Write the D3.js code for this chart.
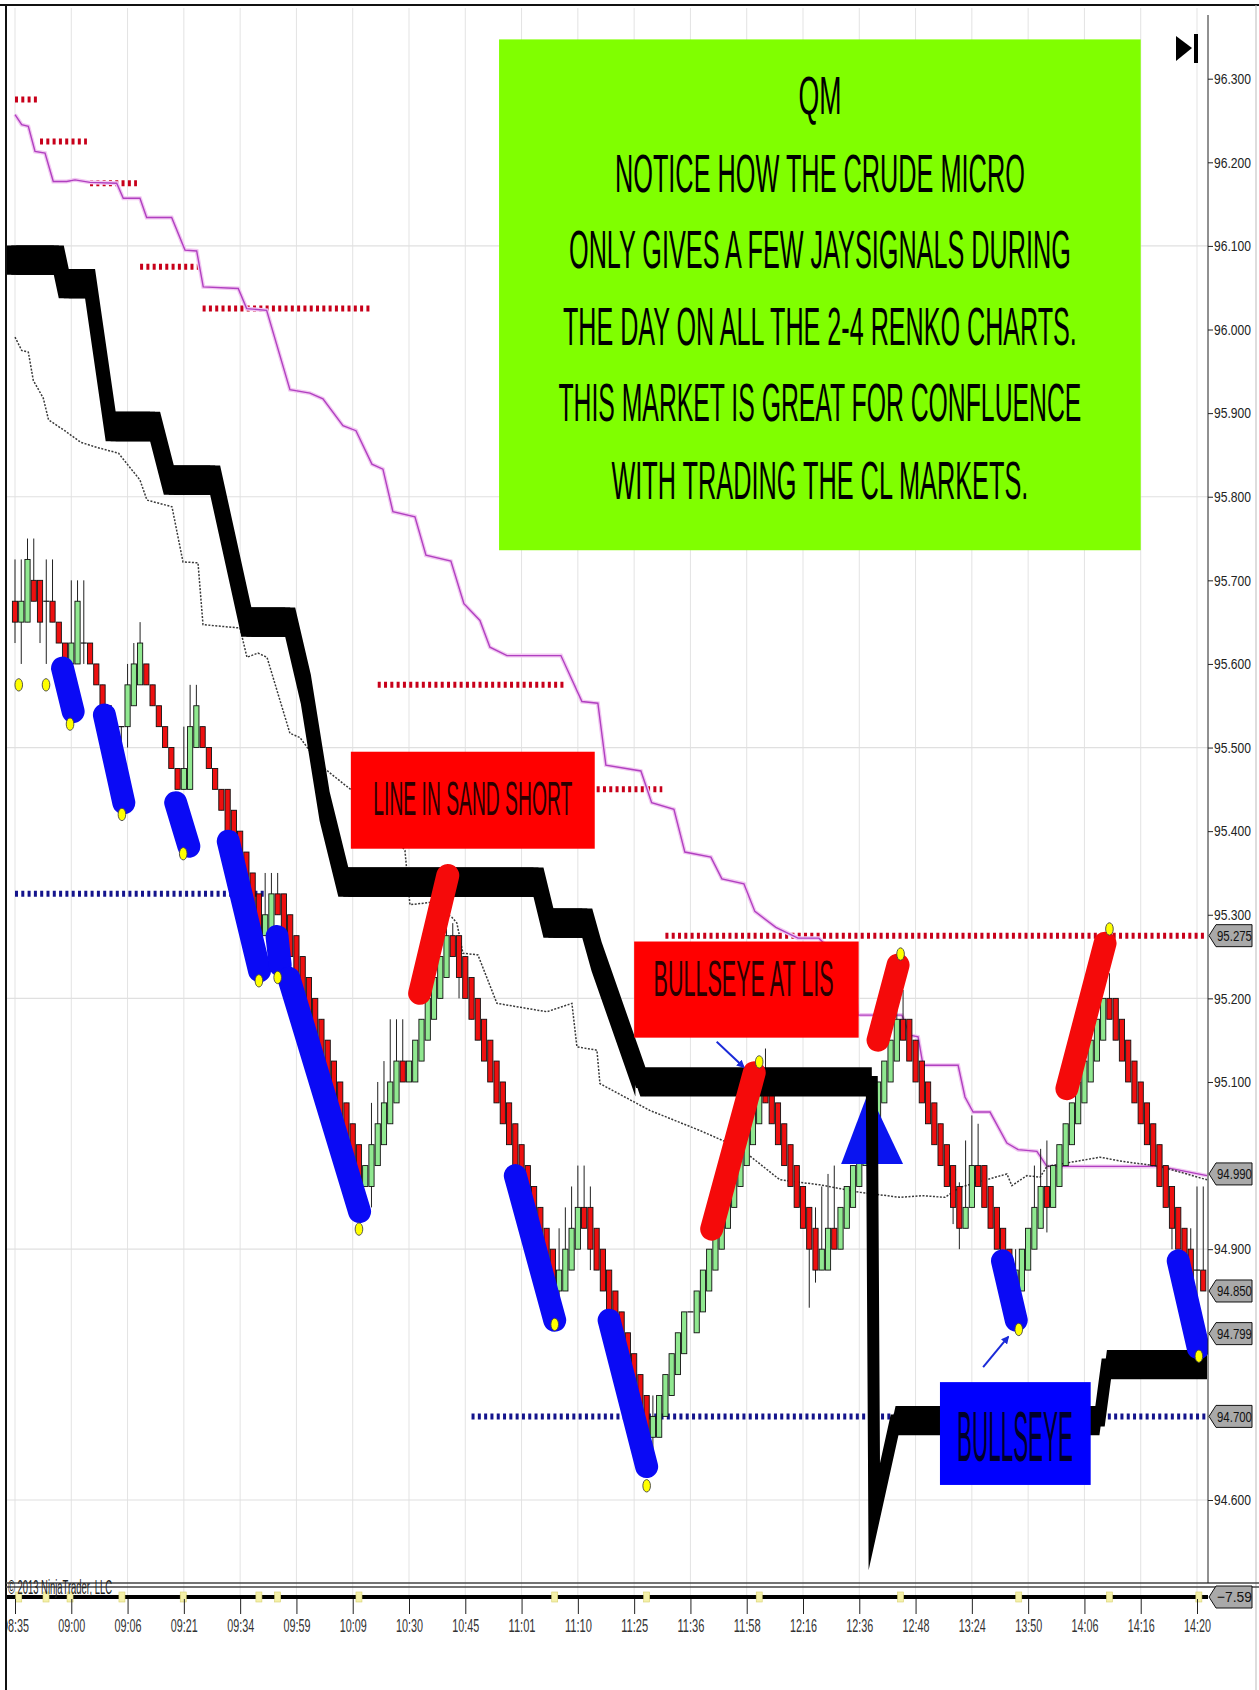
<!DOCTYPE html>
<html><head><meta charset="utf-8">
<script src="https://cdn.jsdelivr.net/npm/d3@7"></script>
<style>
body{margin:0;background:#fff}
svg{display:block}
text{font-family:"Liberation Sans","Arial",sans-serif}
</style>
</head><body>
<svg id="c" width="1259" height="1690"></svg>
<script>
// ---------------- DATA ----------------
const timeLabels = ["08:35","09:00","09:06","09:21","09:34","09:59","10:09","10:30","10:45","11:01","11:10","11:25","11:36","11:58","12:16","12:36","12:48","13:24","13:50","14:06","14:16","14:20"];
const barsPerLabel = 9;
// price labels that are not hidden behind a value flag
const priceTicks = [96.3,96.2,96.1,96.0,95.9,95.8,95.7,95.6,95.5,95.4,95.3,95.2,95.1,94.9,94.6];
const gridPrices = [96.1,95.8,95.5,95.2,94.9,94.6];

// renko bars: open / close per bar index
const closes = [
95.65,95.675,95.725,95.675,95.65,95.675,95.65,95.625,95.60,95.625,
95.675,95.625,95.60,95.575,95.55,95.525,95.50,95.525,95.575,95.60,
95.625,95.575,95.55,95.525,95.50,95.475,95.45,95.475,95.525,95.55,
95.50,95.475,95.45,95.425,95.40,95.375,95.35,95.325,95.30,95.275,
95.30,95.325,95.30,95.275,95.25,95.225,95.20,95.175,95.15,95.125,
95.10,95.075,95.05,95.025,95.00,94.975,95.00,95.025,95.05,95.075,
95.10,95.125,95.10,95.125,95.15,95.175,95.20,95.225,95.25,95.275,
95.25,95.225,95.20,95.175,95.15,95.125,95.10,95.075,95.05,95.025,
95.00,94.975,94.95,94.925,94.90,94.875,94.85,94.875,94.90,94.925,
94.95,94.925,94.90,94.875,94.85,94.825,94.80,94.775,94.75,94.725,
94.70,94.675,94.70,94.725,94.75,94.775,94.80,94.825,94.825,94.85,
94.875,94.90,94.925,94.95,94.975,95.00,95.025,95.05,95.075,95.10,
95.075,95.05,95.025,95.00,94.975,94.95,94.925,94.90,94.875,94.90,
94.925,94.90,94.95,94.975,95.00,95.025,95.05,95.075,95.10,95.125,
95.15,95.175,95.15,95.125,95.10,95.075,95.05,95.025,95.00,94.975,
94.95,94.925,94.95,95.00,94.975,94.95,94.925,94.90,94.875,94.85,
94.875,94.90,94.925,94.95,94.975,94.95,95.00,95.025,95.05,95.075,
95.10,95.125,95.15,95.175,95.20,95.175,95.15,95.125,95.10,95.075,
95.05,95.025,95.00,94.975,94.95,94.925,94.90,94.875,94.85,94.875,
94.85];
const opens = [
95.675,95.65,95.65,95.70,95.70,95.675,95.675,95.65,95.625,95.60,
95.60,95.625,95.625,95.60,95.575,95.55,95.525,95.525,95.525,95.55,
95.575,95.60,95.575,95.55,95.525,95.50,95.475,95.45,95.45,95.50,
95.525,95.50,95.475,95.45,95.45,95.425,95.40,95.375,95.35,95.325,
95.275,95.275,95.325,95.325,95.30,95.275,95.25,95.225,95.20,95.175,
95.15,95.125,95.10,95.075,95.05,95.025,94.975,94.975,95.00,95.025,
95.05,95.075,95.125,95.10,95.10,95.125,95.15,95.175,95.20,95.225,
95.275,95.275,95.25,95.225,95.20,95.175,95.15,95.125,95.10,95.075,
95.05,95.025,95.00,94.975,94.95,94.925,94.90,94.85,94.85,94.875,
94.90,94.95,94.95,94.925,94.90,94.875,94.85,94.825,94.80,94.775,
94.75,94.725,94.675,94.675,94.70,94.725,94.75,94.775,94.825,94.80,
94.825,94.85,94.875,94.90,94.925,94.95,94.975,95.00,95.025,95.05,
95.10,95.10,95.075,95.05,95.025,95.00,94.975,94.95,94.925,94.875,
94.875,94.925,94.90,94.925,94.95,94.975,95.00,95.025,95.05,95.075,
95.10,95.125,95.175,95.175,95.15,95.125,95.10,95.075,95.05,95.025,
95.00,94.975,94.925,94.95,95.00,95.00,94.975,94.95,94.925,94.90,
94.85,94.85,94.875,94.90,94.925,94.975,94.95,94.975,95.00,95.025,
95.05,95.075,95.10,95.125,95.15,95.20,95.20,95.175,95.15,95.125,
95.10,95.075,95.05,95.025,95.00,94.975,94.95,94.925,94.90,94.875,
94.875];
// visible wicks (bar index, high, low)
const wickK  = [0,1,2,3,4,5,6,9,10,11,16,17,18,19,20,27,28,29,40,41,42,57,58,59,60,61,62,69,70,71,87,88,89,90,91,92,101,102,112,120,127,128,129,130,131,141,142,150,151,152,153,154,159,160,163,164,165,175,185,188,189,190];
const wickHi = [95.725,95.725,95.75,95.75,95.70,95.725,95.725,95.70,95.70,95.70,95.525,95.525,95.60,95.625,95.65,95.525,95.575,95.575,95.35,95.35,95.35,95.075,95.10,95.125,95.175,95.175,95.175,95.29,95.29,95.275,94.925,94.95,94.975,95.00,95.00,94.975,94.725,94.725,94.975,95.14,94.95,94.95,94.975,94.99,95.00,95.21,95.21,95.00,94.98,95.03,95.06,95.05,94.875,94.90,95.00,95.02,95.03,95.23,94.975,94.925,94.975,94.975];
const wickLo = [95.625,95.60,95.65,95.675,95.625,95.60,95.65,95.60,95.60,95.60,95.44,95.44,95.50,95.55,95.575,95.45,95.45,95.50,95.275,95.275,95.30,94.95,95.00,95.025,95.05,95.075,95.10,95.225,95.25,95.20,94.825,94.85,94.875,94.90,94.925,94.875,94.65,94.65,94.90,95.10,94.83,94.86,94.90,94.90,94.90,95.125,95.15,94.93,94.90,94.925,94.95,94.975,94.81,94.82,94.90,94.925,94.92,95.175,94.90,94.80,94.80,94.85];

// thick black trailing-stop band (bar index, price)
const stopK = [-0.6,7.0,7.8,12.0,15.3,22.4,24.6,32.0,37.0,44.0,46.5,49.5,52.5,83.7,85.3,91.5,93.0,100.0,137.0,137.4,140.8,173.4,174.6,190.6];
const stopP = [96.083,96.083,96.055,96.055,95.884,95.884,95.82,95.82,95.65,95.65,95.57,95.43,95.339,95.339,95.29,95.29,95.25,95.10,95.10,94.58,94.695,94.695,94.762,94.762];

// violet line
const pinkK = [0,1.07,2.13,3.2,4.8,6.12,8.27,9.59,11.99,16.26,17.31,19.98,21.05,25.05,27.18,29.05,30.1,35.7,37.04,40.24,43.96,47.16,49.24,52.44,54.52,57.07,58.83,60.43,63.95,65.71,69.7,71.78,74.34,75.94,78.66,87.29,90.65,93.2,94.48,100.08,101.8,105.36,107.11,111.27,113.03,116.55,118.3,121.66,125.18,128.54,131.1,133.81,134.77,141.8,143.1,144.4,145.2,150.8,151.9,153.2,155.9,158.6,160.4,163.4,165,183.1,190.6];
const pinkP = [96.257,96.245,96.243,96.213,96.211,96.177,96.177,96.179,96.176,96.175,96.157,96.157,96.134,96.134,96.095,96.094,96.051,96.049,96.025,96.023,95.928,95.924,95.917,95.885,95.879,95.839,95.833,95.782,95.776,95.730,95.723,95.672,95.652,95.620,95.610,95.610,95.555,95.553,95.479,95.472,95.434,95.426,95.375,95.369,95.343,95.337,95.304,95.285,95.272,95.272,95.253,95.247,95.18,95.18,95.156,95.154,95.12,95.12,95.082,95.064,95.064,95.027,95.019,95.017,94.999,94.999,94.988];

// thin dark dotted line
const dotK = [0,1.07,2.13,2.93,4.52,5.36,7.95,10.54,13.1,16.56,19.98,21.1,25.1,26.86,29.26,30.06,35.97,37.09,38.85,40.29,43.96,45.56,48.8,52.8,55.96,62.35,63.15,66.67,67.95,69.86,70.66,71.62,74.02,77.06,85.05,89.05,89.85,93.05,93.53,101.5,109.5,115.9,122.3,128.7,135.1,141.5,145,148.7,151.1,158.6,159.4,161.8,163.9,165,173.5,177.1,183.1,190.6];
const dotP = [95.991,95.975,95.973,95.939,95.918,95.892,95.879,95.865,95.859,95.852,95.820,95.796,95.788,95.722,95.721,95.647,95.643,95.608,95.613,95.608,95.517,95.512,95.479,95.455,95.437,95.377,95.312,95.315,95.306,95.297,95.29,95.254,95.252,95.194,95.184,95.194,95.142,95.138,95.098,95.066,95.042,95.021,94.983,94.977,94.968,94.962,94.964,94.962,94.974,94.990,94.976,94.988,94.986,94.999,95.010,95.005,94.999,94.983];

// red dotted resistance segments and blue dotted support segments
const resK0 = [0,4,12,20,30,58,92,104];
const resK1 = [3.5,11.5,19.5,29.5,57,88,103.5,190.6];
const resP  = [96.275,96.225,96.175,96.075,96.025,95.575,95.45,95.275];
const supK0 = [0,73];
const supK1 = [40.3,190.6];
const supP  = [95.325,94.70];

// painted signal strokes
const strokeType = ["B","B","B","B","B","B","R","B","B","R","R","B","R","B"];
const strokeK0 = [7.6,14.3,25.7,34.1,41.9,43.8,64.7,80,95,111.4,138,157.9,168.2,186];
const strokeP0 = [95.595,95.539,95.434,95.388,95.274,95.224,95.206,94.988,94.815,94.924,95.15,94.886,95.092,94.886];
const strokeK1 = [9.3,17.4,27.8,39.1,42.4,55.1,69.2,86.3,101,118.2,141.2,160.1,174.3,189.2];
const strokeP1 = [95.543,95.434,95.382,95.233,95.24,94.945,95.347,94.815,94.64,95.111,95.24,94.815,95.266,94.782];

// yellow signal dots
const sigK = [0.6,4.96,8.8,17.1,26.9,39,42,55,86.3,101,119,141.6,160.5,175,189.3];
const sigP = [95.575,95.575,95.528,95.42,95.373,95.221,95.225,94.924,94.81,94.617,95.124,95.253,94.804,95.283,94.772];

// right-axis value flags
const flagValues = [95.275,94.990,94.850,94.799,94.700];
const oscValue = -7.59;

// annotations (positions in bar index / price)
const noteLines = ["QM","NOTICE HOW THE CRUDE MICRO","ONLY GIVES A FEW JAYSIGNALS DURING","THE DAY ON ALL THE 2-4 RENKO CHARTS.","THIS MARKET IS GREAT FOR CONFLUENCE","WITH TRADING THE CL MARKETS."];
const noteBase = [96.258,96.164,96.073,95.981,95.891,95.797];
const noteWidth = [43,410,502,514,523,417];

// ---------------- CHART ----------------
const svg = d3.select("#c");
const W = 1259, H = 1690;
const x = d3.scaleLinear().domain([0,189]).range([15,1197]);
const y = d3.scaleLinear().domain([94.6,96.3]).range([1500,78.7]);
const panelRight = 1208, panelBottom = 1583, oscY = 1597;

// squeeze a text horizontally to a given width about its anchor x
function squeeze(sel, w){
  sel.each(function(){
    const n = this.getComputedTextLength();
    if(!n) return;
    const s = w/n;
    const ax = +this.getAttribute("x") || 0;
    this.setAttribute("transform", `translate(${ax*(1-s)},0) scale(${s},1)`);
  });
}

const defs = svg.append("defs");
defs.append("clipPath").attr("id","pc").append("rect").attr("x",7).attr("y",6).attr("width",panelRight-7).attr("height",panelBottom-6);
defs.append("clipPath").attr("id","tc").append("rect").attr("x",7).attr("y",-2).attr("width",W-7).attr("height",90);
defs.append("marker").attr("id","ah").attr("viewBox","0 0 10 10").attr("refX",8).attr("refY",5)
  .attr("markerWidth",4).attr("markerHeight",4).attr("orient","auto")
  .append("path").attr("d","M0,0L10,5L0,10Z").attr("fill","#1a2ad8");

svg.append("rect").attr("width",W).attr("height",H).attr("fill","#fff");

// vertical grid
svg.append("g").selectAll("line").data(timeLabels).join("line")
  .attr("x1",(d,i)=>x(i*barsPerLabel)).attr("x2",(d,i)=>x(i*barsPerLabel))
  .attr("y1",8).attr("y2",oscY).attr("stroke","#e3e3e3").attr("stroke-width",1);

const g = svg.append("g").attr("clip-path","url(#pc)");
// horizontal grid
g.append("g").selectAll("line").data(gridPrices).join("line")
  .attr("x1",7).attr("x2",panelRight).attr("y1",d=>y(d)).attr("y2",d=>y(d))
  .attr("stroke","#e0e0e0").attr("stroke-width",1.2);

// dotted levels
g.append("g").selectAll("line").data(resP).join("line")
  .attr("x1",(d,i)=>x(resK0[i])).attr("x2",(d,i)=>x(resK1[i]))
  .attr("y1",d=>y(d)).attr("y2",d=>y(d))
  .attr("stroke","#c8001a").attr("stroke-width",6).attr("stroke-dasharray","3,3.3");
g.append("g").selectAll("line").data(supP).join("line")
  .attr("x1",(d,i)=>x(supK0[i])).attr("x2",(d,i)=>x(supK1[i]))
  .attr("y1",d=>y(d)).attr("y2",d=>y(d))
  .attr("stroke","#14148c").attr("stroke-width",6).attr("stroke-dasharray","3,3.3");

// violet line
const lineGen = d3.line().x(d=>x(d[0])).y(d=>y(d[1]));
g.append("path").datum(pinkK.map((k,i)=>[k,pinkP[i]])).attr("d",lineGen)
  .attr("fill","none").attr("stroke","#f2c8f2").attr("stroke-width",4);
g.append("path").datum(pinkK.map((k,i)=>[k,pinkP[i]])).attr("d",lineGen)
  .attr("fill","none").attr("stroke","#b040c0").attr("stroke-width",1.4);
// dark dotted line
g.append("path").datum(dotK.map((k,i)=>[k,dotP[i]])).attr("d",lineGen)
  .attr("fill","none").attr("stroke","#3a3a3a").attr("stroke-width",1.5).attr("stroke-dasharray","2,1.5");

// candles
const bars = closes.map((c,i)=>{
  const o = opens[i];
  const wi = wickK.indexOf(i);
  const hi = Math.max(o,c, wi>=0?wickHi[wi]:-1e9);
  const lo = Math.min(o,c, wi>=0?wickLo[wi]:1e9);
  return {i,o,c,hi,lo};
});
const cg = g.append("g");
cg.selectAll("line.w").data(bars).join("line").attr("class","w")
  .attr("x1",d=>x(d.i)).attr("x2",d=>x(d.i)).attr("y1",d=>y(d.hi)).attr("y2",d=>y(d.lo))
  .attr("stroke","#222").attr("stroke-width",1);
cg.selectAll("rect").data(bars.filter(d=>d.o!==d.c)).join("rect")
  .attr("x",d=>x(d.i)-2.6).attr("width",5.2)
  .attr("y",d=>y(Math.max(d.o,d.c))).attr("height",d=>Math.abs(y(d.o)-y(d.c)))
  .attr("fill",d=>d.c>d.o?"#90e890":"#ee1010").attr("stroke","#111").attr("stroke-width",0.9);
cg.selectAll("line.dj").data(bars.filter(d=>d.o===d.c)).join("line").attr("class","dj")
  .attr("x1",d=>x(d.i)-3).attr("x2",d=>x(d.i)+3).attr("y1",d=>y(d.c)).attr("y2",d=>y(d.c))
  .attr("stroke","#111").attr("stroke-width",1.2);

// blue triangle annotation
const tri = [[136.5,95.089],[132.1,95.002],[142.0,95.002]];
g.append("path").attr("d","M"+tri.map(d=>x(d[0])+","+y(d[1])).join("L")+"Z").attr("fill","#0a14f0");

// trailing stop band (filled band, widened sideways on the early descending part, plus centre stroke)
const stopData = stopK.map((k,i)=>[k,stopP[i]]);
const halfBand = 0.0175;
const bandArea = d3.area().x(d=>x(d[0])).y0(d=>y(d[1]-halfBand)).y1(d=>y(d[1]+halfBand));
g.append("path").datum(stopData).attr("d",bandArea).attr("fill","#000");
const earlyStop = stopData.filter(d=>d[0]<=100);
[-5,5].forEach(dx=>{
  g.append("path").datum(earlyStop).attr("d",bandArea).attr("transform",`translate(${dx},0)`).attr("fill","#000");
});
g.append("path").datum(stopData).attr("d",lineGen)
  .attr("fill","none").attr("stroke","#000").attr("stroke-width",12)
  .attr("stroke-linejoin","miter").attr("stroke-miterlimit",12);

// painted strokes
g.append("g").selectAll("line").data(strokeType).join("line")
  .attr("x1",(d,i)=>x(strokeK0[i])).attr("y1",(d,i)=>y(strokeP0[i]))
  .attr("x2",(d,i)=>x(strokeK1[i])).attr("y2",(d,i)=>y(strokeP1[i]))
  .attr("stroke",d=>d==="B"?"#0a0af5":"#f50a0a").attr("stroke-width",23).attr("stroke-linecap","round");

// yellow dots
g.append("g").selectAll("ellipse").data(sigK).join("ellipse")
  .attr("cx",d=>x(d)).attr("cy",(d,i)=>y(sigP[i])).attr("rx",3.8).attr("ry",6.2)
  .attr("fill","#ffff00").attr("stroke","#444").attr("stroke-width",0.9);

// annotation boxes
function box(k0,p0,k1,p1,fill){
  g.append("rect").attr("x",x(k0)).attr("y",y(p0)).attr("width",x(k1)-x(k0)).attr("height",y(p1)-y(p0)).attr("fill",fill);
}
function label(txt,k,p,size,w,fill){
  const t = g.append("text").attr("x",x(k)).attr("y",y(p)).attr("text-anchor","middle")
   .attr("font-size",size).attr("fill",fill).text(txt);
  squeeze(t,w);
}
box(77.4,96.347,180.0,95.736,"#80ff00");
noteLines.forEach((t,i)=>label(t,128.7,noteBase[i],54,noteWidth[i],"#000"));
box(53.7,95.495,92.7,95.379,"#ff0000");
label("LINE IN SAND SHORT",73.2,95.419,48,199,"#2a0000");
box(99.0,95.268,134.9,95.153,"#ff0000");
label("BULLSEYE AT LIS",116.5,95.203,50,180,"#2a0000");
box(147.9,94.741,172.0,94.618,"#0000ff");
label("BULLSEYE",159.9,94.647,70,116,"#00002a");

// arrows
const arrows = [[112.2,95.148,116.5,95.118],[154.8,94.759,158.8,94.795]];
g.append("g").selectAll("line").data(arrows).join("line")
  .attr("x1",d=>x(d[0])).attr("y1",d=>y(d[1])).attr("x2",d=>x(d[2])).attr("y2",d=>y(d[3]))
  .attr("stroke","#1a2ad8").attr("stroke-width",2).attr("marker-end","url(#ah)");

// frame
svg.append("line").attr("x1",0).attr("x2",W).attr("y1",5).attr("y2",5).attr("stroke","#111").attr("stroke-width",2);
svg.append("line").attr("x1",6).attr("x2",6).attr("y1",5).attr("y2",H).attr("stroke","#111").attr("stroke-width",2);
svg.append("line").attr("x1",1256).attr("x2",1256).attr("y1",5).attr("y2",H).attr("stroke","#bbb").attr("stroke-width",1);
// separator
svg.append("line").attr("x1",6).attr("x2",W).attr("y1",panelBottom).attr("y2",panelBottom).attr("stroke","#444").attr("stroke-width",1.3);
svg.append("line").attr("x1",6).attr("x2",W).attr("y1",panelBottom+4).attr("y2",panelBottom+4).attr("stroke","#444").attr("stroke-width",1.3);

// price axis
svg.append("line").attr("x1",panelRight).attr("x2",panelRight).attr("y1",15).attr("y2",panelBottom).attr("stroke","#222");
const ya = svg.append("g").attr("transform",`translate(${panelRight},0)`)
  .call(d3.axisRight(y).tickValues(priceTicks).tickFormat(d3.format(".3f")).tickSizeInner(5).tickSizeOuter(0).tickPadding(1));
ya.select(".domain").remove();
ya.selectAll("line").attr("stroke","#222");
ya.selectAll("text").attr("font-size",15).attr("fill","#222").call(squeeze,37);

// top-right marker icon
svg.append("path").attr("d","M1176,36L1192,48L1176,61Z").attr("fill","#000");
svg.append("rect").attr("x",1194).attr("y",34).attr("width",4).attr("height",29).attr("fill","#000");

// oscillator panel line and markers
svg.append("line").attr("x1",7).attr("x2",panelRight).attr("y1",oscY).attr("y2",oscY).attr("stroke","#000").attr("stroke-width",4);
svg.append("g").selectAll("rect").data(sigK).join("rect")
  .attr("x",d=>x(d)-3).attr("y",oscY-5).attr("width",6).attr("height",10)
  .attr("fill","#f4f0a8").attr("stroke","#d8d070").attr("stroke-width",0.6);

// copyright
svg.append("text").attr("x",8).attr("y",oscY-3).attr("font-size",20).attr("fill","#222")
  .text("© 2013 NinjaTrader, LLC").call(squeeze,104);

// time axis
const xa = svg.append("g").attr("transform",`translate(0,${oscY+2})`).attr("clip-path","url(#tc)")
  .call(d3.axisBottom(x).tickValues(timeLabels.map((d,i)=>i*barsPerLabel)).tickFormat((d,i)=>timeLabels[i]).tickSizeInner(15).tickSizeOuter(0).tickPadding(5));
xa.select(".domain").remove();
xa.selectAll("line").attr("stroke","#222");
xa.selectAll("text").attr("font-size",18).attr("fill","#333").call(squeeze,27);

// value flags on the price axis
function flag(yy,txt){
  const f = svg.append("g");
  f.append("path").attr("d",`M${panelRight+1},${yy}L${panelRight+8},${yy-11}L1252,${yy-11}L1252,${yy+11}L${panelRight+8},${yy+11}Z`)
   .attr("fill","#a9a9a9").attr("stroke","#111").attr("stroke-width",1);
  f.append("text").attr("x",panelRight+9).attr("y",yy+5.5).attr("font-size",15).attr("fill","#111")
   .text(txt).call(squeeze,35);
}
flagValues.forEach(v=>flag(y(v),d3.format(".3f")(v)));
flag(oscY,d3.format(".2f")(oscValue));
</script>
</body></html>
